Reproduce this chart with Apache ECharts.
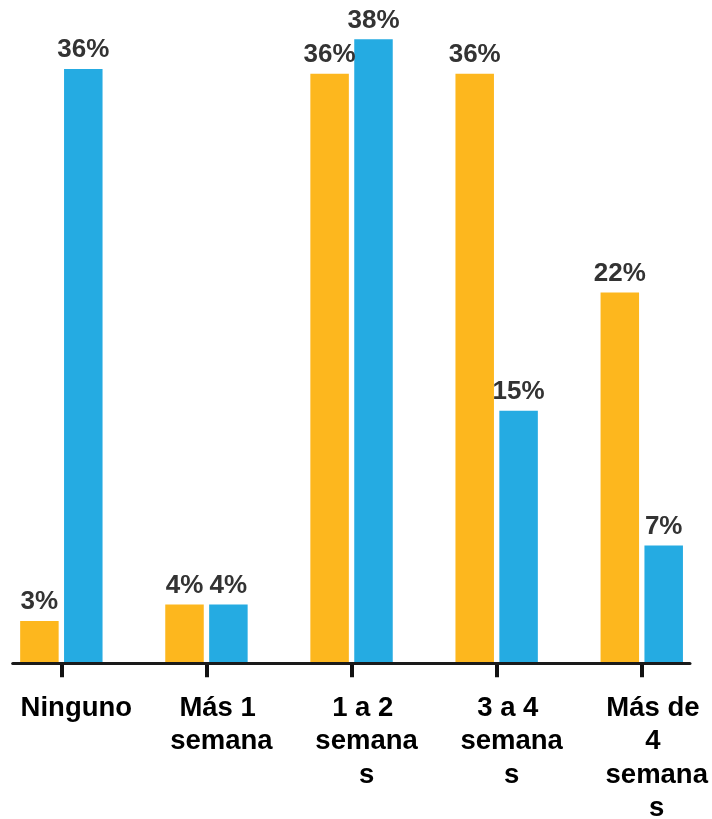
<!DOCTYPE html>
<html><head><meta charset="utf-8">
<script src="https://cdn.jsdelivr.net/npm/echarts@6/dist/echarts.min.js"></script>
<style>html,body{margin:0;padding:0;background:#fff}#c{width:712px;height:819px}</style>
</head><body><div id="c"></div>
<script>
const categories = ['Ninguno', 'Más 1 semana', '1 a 2 semanas', '3 a 4 semanas', 'Más de 4 semanas'];
const orangeValues = [2.6, 3.6, 35.9, 35.9, 22.6];
const blueValues = [36.2, 3.6, 38.0, 15.4, 7.2];
const orangeLabels = ['3%', '4%', '36%', '36%', '22%'];
const blueLabels = ['36%', '4%', '38%', '15%', '7%'];

const ORANGE = '#FDB71E';
const BLUE = '#25ABE2';
const labelFont = "'Liberation Sans', Arial, sans-serif";

function barLabel(labels) {
  return {
    show: true,
    position: 'top',
    distance: 6,
    fontFamily: labelFont,
    fontWeight: 'bold',
    fontSize: 26,
    color: '#333333',
    formatter: function (p) { return labels[p.dataIndex]; }
  };
}

const chart = echarts.init(document.getElementById('c'), null, { renderer: 'canvas' });
chart.setOption({
  animation: false,
  backgroundColor: '#ffffff',
  grid: [
    { left: -11.2, right: -2.3, top: 6.5, bottom: 155.3, containLabel: false, outerBoundsMode: 'none' },
    { left: 12.7, right: 22, top: 600, bottom: 155.3, containLabel: false, outerBoundsMode: 'none' }
  ],
  xAxis: [
    {
      type: 'category',
      gridIndex: 0,
      data: categories,
      axisLine: { show: false },
      axisTick: { show: true, alignWithLabel: true, length: 13.5, lineStyle: { color: '#111111', width: 4 } },
      axisLabel: {
        interval: 0,
        margin: 28,
        color: '#000000',
        fontFamily: "'Liberation Sans', Arial, sans-serif",
        fontWeight: 'bold',
        fontSize: 27.5,
        lineHeight: 33.3,
        width: 114,
        overflow: 'break',
        align: 'center',
        padding: [0, 0, 0, 30]
      }
    },
    {
      type: 'value',
      gridIndex: 1,
      min: 0,
      max: 1,
      z: 10,
      axisLine: { show: true, onZero: false, lineStyle: { color: '#1a1a1a', width: 3 } },
      axisTick: { show: false },
      axisLabel: { show: false },
      splitLine: { show: false }
    }
  ],
  yAxis: [
    { type: 'value', gridIndex: 0, min: 0, max: 40, show: false, splitLine: { show: false } },
    { type: 'value', gridIndex: 1, min: 0, max: 1, show: false, splitLine: { show: false } }
  ],
  series: [
    {
      name: 'Serie 1',
      type: 'bar',
      xAxisIndex: 0, yAxisIndex: 0,
      data: orangeValues,
      barWidth: 38.5,
      barGap: '14%',
      itemStyle: { color: ORANGE },
      label: barLabel(orangeLabels)
    },
    {
      name: 'Serie 2',
      type: 'bar',
      xAxisIndex: 0, yAxisIndex: 0,
      data: blueValues,
      barWidth: 38.5,
      barGap: '14%',
      itemStyle: { color: BLUE },
      label: barLabel(blueLabels)
    }
  ]
});
</script>
</body></html>
